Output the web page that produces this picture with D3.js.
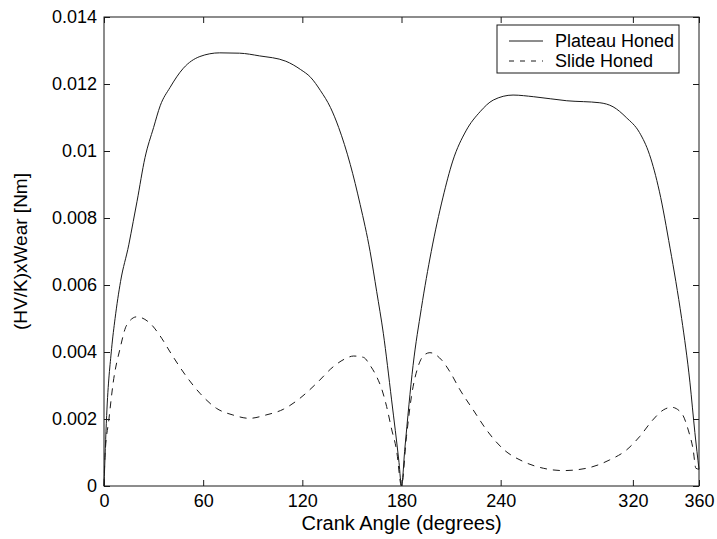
<!DOCTYPE html>
<html>
<head>
<meta charset="utf-8">
<script src="https://cdn.jsdelivr.net/npm/d3@7"></script>
<style>
  html, body { margin: 0; padding: 0; background: #fff; }
  svg { display: block; font-family: Arial, "Liberation Sans", sans-serif; }
</style>
</head>
<body>
<svg id="chart" width="717" height="539"></svg>
<script>
// ---- data ----
const plateauAngle = [0, 1.6, 4.6, 6.7, 10, 15, 17.7, 20, 24.8, 30, 34, 40, 48, 58, 70, 82, 94, 110, 119, 125, 131, 137, 142, 149, 155, 161, 165, 169, 174, 178.5, 180,
  182, 187, 192, 198, 205, 211, 219, 227.5, 235.5, 247.5, 260, 280, 300, 308, 316, 324, 330, 336, 342.5, 346, 349.5, 354.5, 357.5, 360];
const plateauValue = [0, 0.0021, 0.0041, 0.0050, 0.0061, 0.0072, 0.0079, 0.0085, 0.0098, 0.0107, 0.01135, 0.0119, 0.01247, 0.01282, 0.01293, 0.01292, 0.01284, 0.01268, 0.01243, 0.0122, 0.0118, 0.0113, 0.0107, 0.0096, 0.0084, 0.0070, 0.0058, 0.00456, 0.00257, 0.0007, 0,
  0.0011, 0.0036, 0.0053, 0.0070, 0.0086, 0.0097, 0.0106, 0.01117, 0.01152, 0.01167, 0.01162, 0.0115, 0.01144, 0.01132, 0.0110, 0.01055, 0.0099, 0.0088, 0.0071, 0.0061, 0.0050, 0.0031, 0.0016, 0.0005];

const slideAngle = [0, 0.6, 3, 5.6, 9.7, 13.7, 19.8, 27.8, 34.9, 40, 50, 58, 68, 78, 88, 98, 108.5, 118.6, 128.7, 138.7, 146, 151, 157, 161, 165, 168, 171, 174, 177, 180,
  183, 186, 190, 193.5, 197.2, 204.3, 209.3, 215.4, 223.4, 231.5, 241.6, 253.7, 265.8, 277.9, 292, 306, 316, 324, 332, 338.4, 343.4, 349.5, 353.5, 356.5, 358.1, 360];
const slideValue = [0, 0.0009, 0.0020, 0.0031, 0.0041, 0.0048, 0.00505, 0.00486, 0.00441, 0.0040, 0.00326, 0.00277, 0.00232, 0.00212, 0.00202, 0.00212, 0.00229, 0.00262, 0.00307, 0.00356, 0.0038, 0.00388, 0.00384, 0.0036, 0.00326, 0.0029, 0.00237, 0.0017, 0.00107, 0,
  0.00147, 0.00267, 0.00356, 0.0039, 0.00398, 0.00376, 0.00341, 0.00287, 0.00227, 0.00167, 0.0011, 0.00073, 0.00053, 0.00046, 0.00053, 0.00078, 0.00107, 0.00147, 0.00197, 0.00227, 0.00235, 0.00217, 0.00167, 0.00107, 0.00053, 0.0005];

const xTicks = [0, 60, 120, 180, 240, 320, 360];
const yTicks = [0, 0.002, 0.004, 0.006, 0.008, 0.01, 0.012, 0.014];
const seriesNames = ["Plateau Honed", "Slide Honed"];
const xTitle = "Crank Angle (degrees)";
const yTitle = "(HV/K)xWear [Nm]";

// ---- layout ----
const L = 104, R = 699, T = 17, B = 486;
const svg = d3.select("#chart");
const x = d3.scaleLinear().domain([0, 360]).range([L, R]);
const y = d3.scaleLinear().domain([0, 0.014]).range([B, T]);
const ink = "#1a1a1a";
const fs = 18;

// frame
svg.append("rect").attr("x", L).attr("y", T).attr("width", R - L).attr("height", B - T)
  .attr("fill", "none").attr("stroke", ink).attr("stroke-width", 1);

const yFmt = d => d === 0 ? "0" : (Math.round(d * 1000) / 1000).toString();

// axes with inward ticks
const xAxisB = d3.axisBottom(x).tickValues(xTicks).tickSize(-6).tickPadding(8).tickFormat(d3.format("d"));
const xAxisT = d3.axisTop(x).tickValues(xTicks).tickSize(-6).tickFormat("");
const yAxisL = d3.axisLeft(y).tickValues(yTicks).tickSize(-6).tickPadding(7).tickFormat(yFmt);
const yAxisR = d3.axisRight(y).tickValues(yTicks).tickSize(-6).tickFormat("");

function style(g) {
  g.select(".domain").remove();
  g.selectAll(".tick line").attr("stroke", ink);
  g.selectAll(".tick text").attr("fill", "#000").style("font-size", fs + "px")
    .style("font-family", "Arial, 'Liberation Sans', sans-serif");
}
svg.append("g").attr("transform", `translate(0,${B})`).call(xAxisB).call(style);
svg.append("g").attr("transform", `translate(0,${T})`).call(xAxisT).call(style);
svg.append("g").attr("transform", `translate(${L},0)`).call(yAxisL).call(style);
svg.append("g").attr("transform", `translate(${R},0)`).call(yAxisR).call(style);

// lines
const line = d3.line().x(d => x(d[0])).y(d => y(d[1])).curve(d3.curveMonotoneX);
const plateau = plateauAngle.map((a, i) => [a, plateauValue[i]]);
const slide = slideAngle.map((a, i) => [a, slideValue[i]]);

svg.append("path").datum(plateau).attr("d", line).attr("fill", "none")
  .attr("stroke", ink).attr("stroke-width", 1);
svg.append("path").datum(slide).attr("d", line).attr("fill", "none")
  .attr("stroke", ink).attr("stroke-width", 1).attr("stroke-dasharray", "7,6");

// axis titles
svg.append("text").attr("x", (L + R) / 2).attr("y", 530).attr("text-anchor", "middle")
  .style("font-size", "20px").attr("fill", "#000").text(xTitle);
svg.append("text").attr("transform", `translate(27,${(T + B) / 2}) rotate(-90)`)
  .attr("text-anchor", "middle").style("font-size", "19px").attr("fill", "#000").text(yTitle);

// legend
const lg = svg.append("g");
lg.append("rect").attr("x", 497).attr("y", 25).attr("width", 182).attr("height", 48)
  .attr("fill", "#fff").attr("stroke", ink).attr("stroke-width", 1);
const rows = [41, 61];
seriesNames.forEach((name, i) => {
  lg.append("line").attr("x1", 509).attr("x2", 543).attr("y1", rows[i]).attr("y2", rows[i])
    .attr("stroke", ink).attr("stroke-width", 1).attr("stroke-dasharray", i === 1 ? "5,6" : null);
  lg.append("text").attr("x", 555).attr("y", rows[i]).attr("dy", "0.35em")
    .style("font-size", fs + "px").attr("fill", "#000").text(name);
});
</script>
</body>
</html>
